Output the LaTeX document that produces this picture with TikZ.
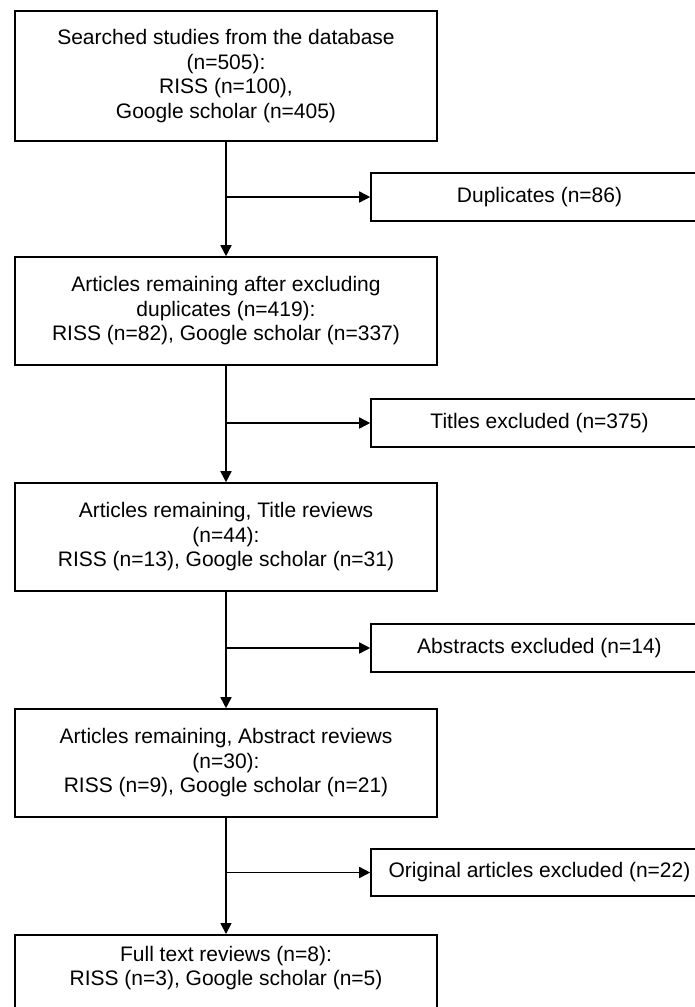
\documentclass[tikz,border=0pt]{standalone}
\usepackage{fontspec}
\setmainfont{Liberation Sans}
\usetikzlibrary{arrows.meta}
\begin{document}
\begin{tikzpicture}[x=1pt,y=-1pt,
  every node/.style={font=\fontsize{21}{24.5}\selectfont, align=center, inner sep=0pt},
  mainbox/.style={draw, line width=1.6pt, minimum width=422pt},
  sidebox/.style={draw, line width=1.6pt, minimum width=337pt, minimum height=48pt},
  arr/.style={line width=1.6pt, -{Triangle[length=11pt,width=11pt]}},
  branch/.style={line width=1.6pt, -{Triangle[length=11pt,width=11pt]}}]
\useasboundingbox (0,0) rectangle (695,1007);
\fill[white] (0,0) rectangle (695,1007);

\node[mainbox, minimum height=130pt] (b1) at (226,76)
  {Searched studies from the database\\(n=505):\\RISS (n=100),\\Google scholar (n=405)};
\node[sidebox] (dup) at (539.5,197) {Duplicates (n=86)};
\node[mainbox, minimum height=108pt] (b2) at (226,311)
  {Articles remaining after excluding\\duplicates (n=419):\\RISS (n=82), Google scholar (n=337)};
\node[sidebox] (tit) at (539.5,423) {Titles excluded (n=375)};
\node[mainbox, minimum height=108pt] (b3) at (226,537)
  {Articles remaining, Title reviews\\(n=44):\\RISS (n=13), Google scholar (n=31)};
\node[sidebox] (abs) at (539.5,648) {Abstracts excluded (n=14)};
\node[mainbox, minimum height=108pt] (b4) at (226,763)
  {Articles remaining, Abstract reviews\\(n=30):\\RISS (n=9), Google scholar (n=21)};
\node[sidebox, minimum height=47pt] (orig) at (539.5,872.5) {Original articles excluded (n=22)};
\node[mainbox, minimum height=108pt, anchor=north,
  label={[anchor=north, yshift=-12pt, align=center]north:{Full text reviews (n=8):\\RISS (n=3), Google scholar (n=5)}}]
  (b5) at (226,934) {};

\draw[arr] (b1.south) -- (b2.north);
\draw[branch] (b1.south |- dup.west) -- (dup.west);
\draw[arr] (b2.south) -- (b3.north);
\draw[branch] (b2.south |- tit.west) -- (tit.west);
\draw[arr] (b3.south) -- (b4.north);
\draw[branch] (b3.south |- abs.west) -- (abs.west);
\draw[arr] (b4.south) -- (b5.north);
\draw[branch] (b4.south |- orig.west) -- (orig.west);
\end{tikzpicture}
\end{document}
